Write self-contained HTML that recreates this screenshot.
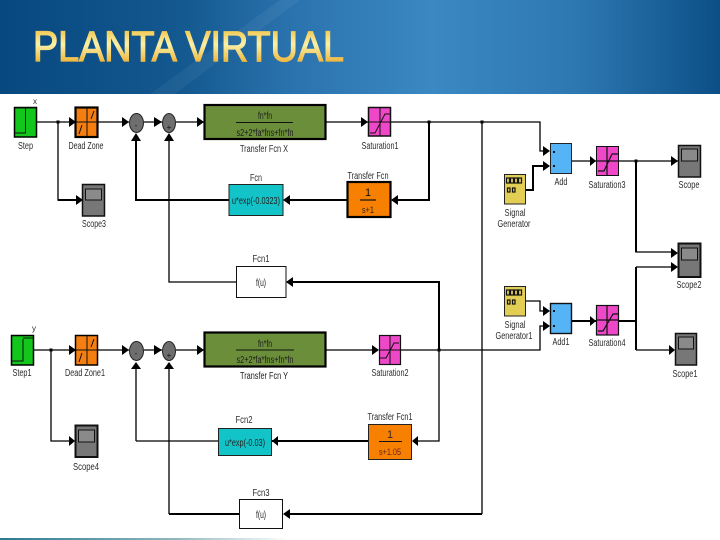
<!DOCTYPE html>
<html><head><meta charset="utf-8"><style>
html,body{margin:0;padding:0;background:#fff;width:720px;height:540px;overflow:hidden}
svg{display:block}
text{font-family:"Liberation Sans",sans-serif}
.l{font-size:10px;fill:#2c2c2c;text-anchor:middle}
.m{font-size:10px;fill:#1c1c1c;text-anchor:middle}
.t{fill:none;stroke:#000;stroke-width:1.3}
.k{fill:none;stroke:#000;stroke-width:2}
.b{stroke:#000;stroke-width:1.5}
.bt{stroke:#000;stroke-width:2.2}
.i{fill:none;stroke:#111;stroke-width:1}
</style></head><body>
<svg width="720" height="540" viewBox="0 0 720 540" xmlns="http://www.w3.org/2000/svg">
<defs>
<linearGradient id="hd" x1="0" x2="1" y1="0" y2="0">
<stop offset="0" stop-color="#07487f"/><stop offset=".25" stop-color="#13588f"/><stop offset=".4" stop-color="#2a72ad"/><stop offset=".6" stop-color="#3b88c3"/><stop offset=".8" stop-color="#2e78b2"/><stop offset="1" stop-color="#0c4f87"/>
</linearGradient>
<linearGradient id="gd" gradientUnits="userSpaceOnUse" x1="0" x2="0" y1="30" y2="62">
<stop offset="0" stop-color="#f2c94f"/><stop offset=".45" stop-color="#fbf0a8"/><stop offset="1" stop-color="#eeb63c"/>
</linearGradient>
<linearGradient id="bt" x1="0" x2="1" y1="0" y2="0">
<stop offset="0" stop-color="#2a7a90"/><stop offset=".6" stop-color="#8fb7bd"/><stop offset="1" stop-color="#ffffff"/>
</linearGradient>
</defs>
<rect x="0" y="0" width="720" height="94" fill="url(#hd)"/>
<polygon points="150,94 280,0 300,0 175,94" fill="#fff" opacity=".05"/>
<text x="33" y="61" font-size="43" textLength="311" lengthAdjust="spacingAndGlyphs" fill="url(#gd)" stroke="url(#gd)" stroke-width="1.3">PLANTA VIRTUAL</text>
<rect x="0" y="538" width="290" height="2" fill="url(#bt)"/>

<!-- wires thin -->
<path class="t" d="M37 122H75M98 122H129M144 122H162M176 122H204M326 122H368M391 122H540V151H546"/>
<path class="t" d="M58 122V200H78"/>
<path class="t" d="M169 136V282H236"/>
<path class="t" d="M482 122V514"/>
<path class="t" d="M572 161H596M619 161H678"/>
<path class="t" d="M636 161V252H674"/>
<path class="t" d="M636 267H674"/>
<path class="t" d="M636 350H672"/>
<path class="t" d="M34 350H75M98 350H129M144 350H162M176 350H204M326 350H376M401 350H540V326H546"/>
<path class="t" d="M51 350V441H72"/>
<path class="t" d="M136 441V368M218 441H136"/>
<path class="t" d="M169 514V368"/>
<path class="t" d="M526 301H540V311H546"/>
<path class="t" d="M439 350V441H418"/>
<!-- wires thick -->
<path class="k" d="M58 200H80M136 136V200H229M286 200H347"/>
<path class="k" d="M429 122V200H395"/>
<path class="k" d="M287 282H439V350"/>
<path class="k" d="M526 190H533V166H546"/>
<path class="k" d="M636 161V252M636 267V350M572 321H596M619 321H636"/>
<path class="k" d="M272 441H368"/>
<path class="k" d="M169 514H239M287 514H482"/>
<!-- junctions -->
<g fill="#000"><rect x="56.500" y="120.500" width="3" height="3"/><rect x="427.500" y="120.500" width="3" height="3"/><rect x="480.500" y="120.500" width="3" height="3"/><rect x="634.500" y="159.500" width="3" height="3"/><rect x="49.500" y="348.500" width="3" height="3"/><rect x="437.500" y="348.500" width="3" height="3"/></g>

<!-- arrowheads -->
<g fill="#000">
<polygon points="69,117 76,122 69,127"/><polygon points="122,117 129,122 122,127"/><polygon points="154,117 162,122 154,127"/><polygon points="197,117 204,122 197,127"/><polygon points="361,117 368,122 361,127"/>
<polygon points="76,195 83,200 76,205"/>
<polygon points="136,133 131,141 141,141"/><polygon points="169,133 164,141 174,141"/>
<polygon points="290,195 283,200 290,205"/><polygon points="398,195 391,200 398,205"/>
<polygon points="543,146 550,151 543,156"/><polygon points="543,161 550,166 543,171"/>
<polygon points="590,156 596,161 590,166"/><polygon points="671,156 678,161 671,166"/>
<polygon points="671,248 678,253 671,258"/><polygon points="671,262 678,267 671,272"/>
<polygon points="669,345 675,350 669,355"/>
<polygon points="69,345 76,350 69,355"/><polygon points="122,345 129,350 122,355"/><polygon points="154,345 162,350 154,355"/><polygon points="197,345 204,350 197,355"/><polygon points="372,345 379,350 372,355"/>
<polygon points="69,436 75,441 69,446"/>
<polygon points="136,362 131,369 141,369"/><polygon points="169,362 164,369 174,369"/>
<polygon points="278,436 272,441 278,446"/><polygon points="418,436 412,441 418,446"/>
<polygon points="290,509 283,514 290,519"/>
<polygon points="293,277 286,282 293,287"/>
<polygon points="543,306 550,311 543,316"/><polygon points="543,321 550,326 543,331"/>
<polygon points="590,316 596,321 590,326"/>
</g>

<!-- Step -->
<g><rect x="14.500" y="107.500" width="22" height="29.500" fill="#12c61c" class="b"/><path class="i" d="M25.500 108V133H15M15 108H36" stroke-width="1.5"/></g>
<g><rect x="11.500" y="335.500" width="22" height="29.500" fill="#12c61c" class="b"/><path class="i" d="M23 339V361H12M23 338H33" stroke-width="1.5"/></g>

<!-- Dead zones -->
<g><rect x="75.500" y="107.500" width="22" height="29.500" fill="#f47f10" class="bt"/><path class="i" d="M87 108V136M76 122H97"/><path d="M79 134L82 125M91 119L94 111" stroke="#111" fill="none"/></g>
<g><rect x="75.500" y="335.500" width="22" height="29.500" fill="#f47f10" class="b"/><path class="i" d="M87 336V364M76 350H97"/><path d="M79 362L82 353M91 347L94 339" stroke="#111" fill="none"/></g>

<!-- Sums -->
<g fill="#6e6e6e" stroke="#222" stroke-width="1"><ellipse cx="136.500" cy="123" rx="7" ry="9.500"/><ellipse cx="169" cy="123" rx="6.500" ry="9.500"/><ellipse cx="136.500" cy="351" rx="7" ry="9.500"/><ellipse cx="169" cy="351" rx="6.500" ry="9.500"/></g>
<g fill="#111" font-size="8" text-anchor="middle"><text x="136" y="128">-</text><text x="169" y="130">+</text><text x="136" y="356">-</text><text x="169" y="358">+</text></g>

<!-- Transfer Fcn X/Y -->
<rect x="204.500" y="105" width="121" height="34" fill="#6b8e3a" class="bt"/>
<rect x="204.500" y="332.500" width="121" height="34" fill="#6b8e3a" class="bt"/>
<path d="M236 122.500H293M236 350H294" stroke="#111" fill="none"/>
<text class="m" x="265" y="119" textLength="14" lengthAdjust="spacingAndGlyphs">fn*fn</text>
<text class="m" x="265" y="136" textLength="57" lengthAdjust="spacingAndGlyphs">s2+2*fa*fns+fn*fn</text>
<text class="m" x="265" y="347" textLength="14" lengthAdjust="spacingAndGlyphs">fn*fn</text>
<text class="m" x="265" y="363" textLength="57" lengthAdjust="spacingAndGlyphs">s2+2*fa*fns+fn*fn</text>
<text class="l" x="264" y="152" textLength="48" lengthAdjust="spacingAndGlyphs">Transfer Fcn X</text>
<text class="m" x="264" y="379" textLength="48" lengthAdjust="spacingAndGlyphs">Transfer Fcn Y</text>

<!-- Saturations -->
<g fill="#ee48c8" stroke="#111">
<rect x="368.500" y="107.500" width="22" height="28.500" stroke-width="1.5"/><rect x="379.500" y="335.500" width="21" height="29" stroke-width="1.2"/><rect x="596.500" y="146.500" width="22" height="29" stroke-width="1"/><rect x="596.500" y="305.500" width="22" height="29.500" stroke-width="1.2"/>
</g>
<g fill="none" stroke="#111">
<path d="M380 108V136M369 122H390M370 133H375L385 114H390"/>
<path d="M390 336V364M380 350H400M380 358H386L394 343H399" />
<path d="M607 147V175M597 161H618M598 171H604L612 154H618" stroke-width="1.2"/>
<path d="M607 306V335M597 320H618M598 331H603L613 314H618" stroke-width="1.2"/>
</g>

<!-- Scopes -->
<g fill="#777" stroke="#111" stroke-width="1.5">
<rect x="82.500" y="184.500" width="22" height="31.500"/><rect x="678.500" y="145.500" width="22" height="31.500"/><rect x="678.500" y="243.500" width="22" height="33.500" stroke-width="2"/><rect x="675.500" y="333.500" width="21" height="31.500" stroke-width="1.5"/><rect x="75.500" y="425.500" width="22" height="31.500" stroke-width="2"/>
</g>
<g fill="#8a8a8a" stroke="#111" stroke-width="1">
<rect x="85.500" y="189" width="16" height="11"/><rect x="681.500" y="149" width="16" height="12"/><rect x="681.500" y="248" width="16" height="12"/><rect x="678.500" y="337" width="15" height="12"/><rect x="78.500" y="430" width="16" height="12"/>
</g>

<!-- Fcn blocks -->
<rect x="229" y="184.500" width="54" height="31" fill="#12c4c8" stroke="#222" stroke-width="1"/>
<text x="256" y="204" font-size="10" fill="#222" text-anchor="middle" textLength="48" lengthAdjust="spacingAndGlyphs">u*exp(-0.0323)</text>
<rect x="218.500" y="428.500" width="53" height="27" fill="#12c4c8" stroke="#222" stroke-width="1"/>
<text x="245" y="446" font-size="10" fill="#222" text-anchor="middle" textLength="40" lengthAdjust="spacingAndGlyphs">u*exp(-0.03)</text>
<rect x="236.500" y="266.500" width="49.500" height="31" fill="#fff" stroke="#111" stroke-width="1"/>
<text class="m" x="261" y="286" textLength="10" lengthAdjust="spacingAndGlyphs">f(u)</text>
<rect x="239.500" y="499.500" width="43" height="29" fill="#fff" stroke="#111" stroke-width="1"/>
<text class="m" x="261" y="518" textLength="10" lengthAdjust="spacingAndGlyphs">f(u)</text>

<!-- TF orange -->
<rect x="347.500" y="182" width="43" height="35" fill="#f88000" class="bt"/>
<path d="M360 200H376" stroke="#111" stroke-width="1.2"/>
<text x="368" y="196" font-size="11" fill="#111" text-anchor="middle">1</text>
<text x="368" y="213" font-size="9" fill="#222" text-anchor="middle" textLength="12" lengthAdjust="spacingAndGlyphs">s+1</text>
<rect x="368.500" y="424.500" width="43" height="35" fill="#f88000" stroke="#222" stroke-width="1"/>
<path d="M379 441.500H402" stroke="#111" stroke-width="1"/>
<text x="390" y="438" font-size="11" fill="#422" text-anchor="middle">1</text>
<text x="390" y="455" font-size="9" fill="#622" text-anchor="middle" textLength="22" lengthAdjust="spacingAndGlyphs">s+1.05</text>

<!-- Signal generators -->
<g fill="#e2ce55" stroke="#222" stroke-width="1"><rect x="504.500" y="174.500" width="21" height="29.500"/><rect x="504.500" y="286.500" width="21" height="29.500"/></g>
<g fill="none" stroke="#111" stroke-width="1.200">
<rect x="506.500" y="178" width="3" height="5"/><rect x="510.500" y="178" width="3" height="5"/><rect x="514.500" y="178" width="3" height="5"/><rect x="518.500" y="178" width="3" height="5"/><rect x="507.500" y="188" width="2.500" height="4"/><rect x="512.500" y="188" width="2.500" height="4"/>
<rect x="506.500" y="290" width="3" height="5"/><rect x="510.500" y="290" width="3" height="5"/><rect x="514.500" y="290" width="3" height="5"/><rect x="518.500" y="290" width="3" height="5"/><rect x="507.500" y="300" width="2.500" height="4"/><rect x="512.500" y="300" width="2.500" height="4"/>
</g>

<!-- Add -->
<rect x="550.500" y="143.500" width="21" height="30" fill="#55b4f5" stroke="#222" stroke-width="1"/>
<rect x="550.500" y="303.500" width="21" height="30" fill="#55b4f5" stroke="#111" stroke-width="1.4"/>
<g fill="#111" font-size="6"><rect x="553" y="151" width="2" height="2"/><rect x="553" y="165" width="2" height="2"/><rect x="553" y="310" width="2" height="2"/><rect x="553" y="325" width="2" height="2"/></g>

<!-- labels -->
<text class="l" x="35" y="104" style="font-size:8px">x</text>
<text class="l" x="25.500" y="149" textLength="15" lengthAdjust="spacingAndGlyphs">Step</text>
<text class="l" x="86" y="149" textLength="35" lengthAdjust="spacingAndGlyphs">Dead Zone</text>
<text class="l" x="94" y="227" textLength="24" lengthAdjust="spacingAndGlyphs">Scope3</text>
<text class="l" x="256" y="181" textLength="12" lengthAdjust="spacingAndGlyphs">Fcn</text>
<text class="l" x="380" y="149" textLength="37" lengthAdjust="spacingAndGlyphs">Saturation1</text>
<text class="l" x="368" y="179" textLength="41" lengthAdjust="spacingAndGlyphs">Transfer Fcn</text>
<text class="l" x="561" y="185" textLength="13" lengthAdjust="spacingAndGlyphs">Add</text>
<text class="l" x="607" y="188" textLength="37" lengthAdjust="spacingAndGlyphs">Saturation3</text>
<text class="l" x="689" y="188" textLength="21" lengthAdjust="spacingAndGlyphs">Scope</text>
<text class="l" x="689" y="288" textLength="25" lengthAdjust="spacingAndGlyphs">Scope2</text>
<text class="l" x="515" y="216" textLength="21" lengthAdjust="spacingAndGlyphs">Signal</text>
<text class="l" x="514" y="227" textLength="33" lengthAdjust="spacingAndGlyphs">Generator</text>
<text class="l" x="515" y="328" textLength="21" lengthAdjust="spacingAndGlyphs">Signal</text>
<text class="l" x="514" y="339" textLength="37" lengthAdjust="spacingAndGlyphs">Generator1</text>
<text class="l" x="561" y="345" textLength="17" lengthAdjust="spacingAndGlyphs">Add1</text>
<text class="l" x="607" y="346" textLength="37" lengthAdjust="spacingAndGlyphs">Saturation4</text>
<text class="l" x="685" y="377" textLength="25" lengthAdjust="spacingAndGlyphs">Scope1</text>
<text class="l" x="261" y="262" textLength="17" lengthAdjust="spacingAndGlyphs">Fcn1</text>
<text class="l" x="34" y="331" style="font-size:8px">y</text>
<text class="l" x="22" y="376" textLength="19" lengthAdjust="spacingAndGlyphs">Step1</text>
<text class="l" x="85" y="376" textLength="40" lengthAdjust="spacingAndGlyphs">Dead Zone1</text>
<text class="l" x="86" y="470" textLength="26" lengthAdjust="spacingAndGlyphs">Scope4</text>
<text class="l" x="390" y="376" textLength="37" lengthAdjust="spacingAndGlyphs">Saturation2</text>
<text class="l" x="244" y="423" textLength="17" lengthAdjust="spacingAndGlyphs">Fcn2</text>
<text class="l" x="390" y="420" textLength="45" lengthAdjust="spacingAndGlyphs">Transfer Fcn1</text>
<text class="l" x="261" y="496" textLength="17" lengthAdjust="spacingAndGlyphs">Fcn3</text>
</svg>
</body></html>
